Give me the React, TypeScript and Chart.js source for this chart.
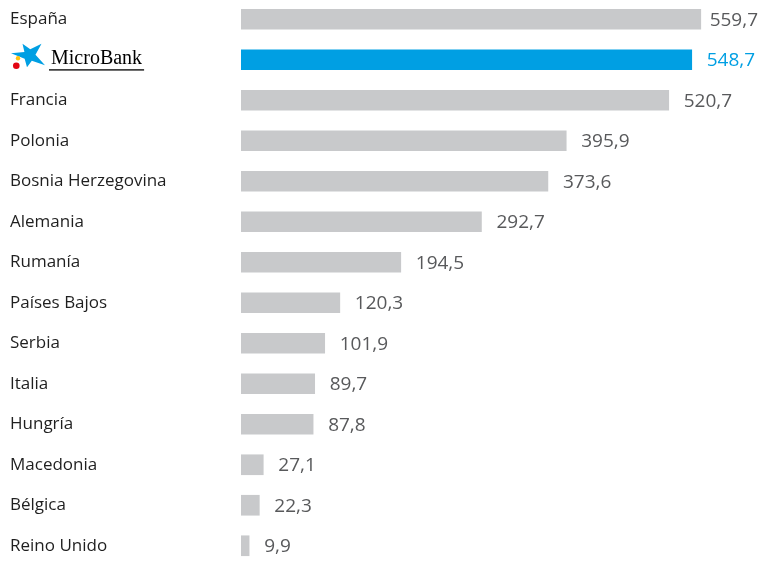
import React, { useEffect, useRef } from "react";
import { Chart, registerables } from "chart.js";

Chart.register(...registerables);

const categories = [
  "España",
  "MicroBank",
  "Francia",
  "Polonia",
  "Bosnia Herzegovina",
  "Alemania",
  "Rumanía",
  "Países Bajos",
  "Serbia",
  "Italia",
  "Hungría",
  "Macedonia",
  "Bélgica",
  "Reino Unido",
];
const values = [559.7, 548.7, 520.7, 395.9, 373.6, 292.7, 194.5, 120.3, 101.9, 89.7, 87.8, 27.1, 22.3, 9.9];
const highlightIndex = 1;

const GRAY = "#c8c9cb";
const BLUE = "#009fe3";
const LABEL_FONT = "'Open Sans', 'Noto Sans', sans-serif";

const fmt = (v: number) => v.toFixed(1).replace(".", ",");

const CANVAS_W = 761;
const CANVAS_H = 567;
const CANVAS_TOP = -1;

const valueLabelPlugin = {
  id: "valueLabels",
  afterDatasetsDraw(chart: any) {
    const ctx = chart.ctx;
    const meta = chart.getDatasetMeta(0);
    ctx.save();
    ctx.font = `19px ${LABEL_FONT}`;
    ctx.textBaseline = "middle";
    ctx.textAlign = "left";
    meta.data.forEach((bar: any, i: number) => {
      const text = fmt(values[i]);
      const w = ctx.measureText(text).width;
      let x = bar.x + 15;
      const maxX = chart.width - 3 - w;
      if (x > maxX) x = maxX;
      ctx.fillStyle = i === highlightIndex ? BLUE : "#58595b";
      ctx.fillText(text, x, bar.y + 1);
    });
    ctx.restore();
  },
};

const logoPlugin = {
  id: "logoLabel",
  afterDraw(chart: any) {
    const ctx = chart.ctx;
    const yScale = chart.scales.y;
    const yc = yScale.getPixelForValue(highlightIndex);
    const dy = yc - 61;
    ctx.save();
    const cx = 29.5;
    const cy = 56.5 + dy;
    const tips = [
      [41.5, 45 + dy],
      [45, 66.5 + dy],
      [27, 68.5 + dy],
      [11, 54.5 + dy],
      [22.5, 45 + dy],
    ];
    ctx.fillStyle = BLUE;
    ctx.beginPath();
    tips.forEach((t, k) => {
      const next = tips[(k + 1) % tips.length];
      const a1 = Math.atan2(t[1] - cy, t[0] - cx);
      let a2 = Math.atan2(next[1] - cy, next[0] - cx);
      if (a2 < a1) a2 += Math.PI * 2;
      const mid = (a1 + a2) / 2;
      if (k === 0) ctx.moveTo(t[0], t[1]);
      else ctx.lineTo(t[0], t[1]);
      ctx.lineTo(cx + Math.cos(mid) * 6, cy + Math.sin(mid) * 6);
    });
    ctx.closePath();
    ctx.fill();
    ctx.fillStyle = "#ffc20e";
    ctx.beginPath();
    ctx.arc(18, 59.5 + dy, 2.2, 0, Math.PI * 2);
    ctx.fill();
    ctx.fillStyle = "#e30613";
    ctx.beginPath();
    ctx.arc(16.3, 67 + dy, 3.3, 0, Math.PI * 2);
    ctx.fill();
    ctx.fillStyle = "#000";
    ctx.font = "20px 'Liberation Serif', 'DejaVu Serif', serif";
    ctx.textBaseline = "alphabetic";
    ctx.textAlign = "left";
    const label = categories[highlightIndex];
    ctx.fillText(label, 51, 65.5 + dy);
    const w = ctx.measureText(label).width;
    ctx.fillRect(49, 70.5 + dy, w + 4, 1.3);
    ctx.restore();
  },
};

const zeroPadding = (scale: any) => {
  scale.paddingTop = 0;
  scale.paddingBottom = 0;
  scale.paddingLeft = 0;
  scale.paddingRight = 0;
};

export default function App() {
  const ref = useRef<HTMLCanvasElement | null>(null);
  useEffect(() => {
    if (!ref.current) return;
    const chart = new Chart(ref.current, {
      type: "bar",
      data: {
        labels: categories,
        datasets: [
          {
            data: values,
            backgroundColor: values.map((_, i) => (i === highlightIndex ? BLUE : GRAY)),
            barThickness: 20,
            borderWidth: 0,
          },
        ],
      },
      options: {
        indexAxis: "y",
        animation: false,
        responsive: false,
        devicePixelRatio: 1,
        layout: { padding: { left: 10, right: 0, top: 0, bottom: 0 } },
        plugins: { legend: { display: false }, tooltip: { enabled: false } },
        scales: {
          x: {
            display: false,
            min: 0,
            max: 633,
            afterFit: zeroPadding,
          },
          y: {
            type: "category",
            grid: { display: false },
            border: { display: false },
            afterFit: (scale: any) => {
              scale.width = 231;
              zeroPadding(scale);
            },
            ticks: {
              crossAlign: "far",
              padding: 0,
              color: "#1f1f1f",
              font: { family: LABEL_FONT, size: 17 },
              callback: (_v: any, i: number) => (i === highlightIndex ? "" : categories[i]),
            },
          },
        },
      },
      plugins: [valueLabelPlugin, logoPlugin],
    });
    return () => chart.destroy();
  }, []);
  return (
    <div
      style={{
        position: "absolute",
        left: 0,
        top: 0,
        width: 761,
        height: 562,
        overflow: "hidden",
        background: "#fff",
      }}
    >
      <canvas
        ref={ref}
        width={CANVAS_W}
        height={CANVAS_H}
        style={{ position: "absolute", left: 0, top: CANVAS_TOP, display: "block" }}
      />
    </div>
  );
}
